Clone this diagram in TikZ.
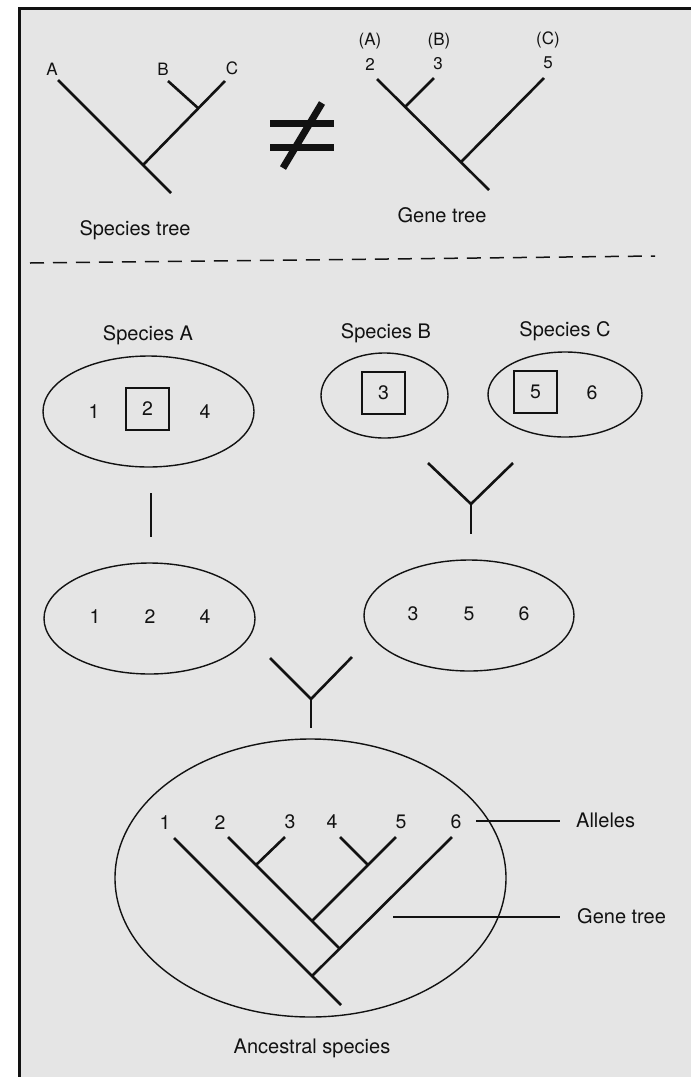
\documentclass[tikz,border=0pt]{standalone}
\usepackage{fontspec}
\setmainfont{TeX Gyre Heros}
\usetikzlibrary{shapes.geometric}
\definecolor{paper}{gray}{0.90}
\definecolor{ink}{gray}{0.07}

\begin{document}
\begin{tikzpicture}[x=1pt,y=-1pt,
  branch/.style={draw=ink,line width=2.6pt,line cap=butt},
  leader/.style={draw=ink,line width=1.6pt},
  lbl/.style={inner sep=0pt,text=ink,anchor=base,font=\fontsize{20}{23}\selectfont},
  tiplbl/.style={inner sep=0pt,text=ink,font=\fontsize{17}{20}\selectfont},
  num/.style={inner sep=0pt,text=ink,font=\fontsize{19.5}{22}\selectfont},
  bignum/.style={inner sep=0pt,text=ink,font=\fontsize{19.5}{22}\selectfont},
  pop/.style={ellipse,draw=ink,line width=1.4pt,inner sep=0pt},
  allele/.style={rectangle,draw=ink,line width=1.4pt,minimum width=43pt,
                 minimum height=42pt,inner sep=0pt,text=ink,font=\fontsize{19.5}{22}\selectfont},
]
\useasboundingbox (0,0) rectangle (691,1077);
\fill[white] (0,0) rectangle (691,1077);
\fill[paper] (19.5,8.5) rectangle (691,1077);
\draw[ink,line width=3pt] (19.5,1077) -- (19.5,8.5) -- (691,8.5);

% ---------- species tree ----------
\node[tiplbl] (lA) at (52,69) {A};
\node[tiplbl] (lB) at (163,69) {B};
\node[tiplbl] (lC) at (232,68) {C};
\coordinate (sA) at (58,80);
\coordinate (sRoot) at (171,193);
\coordinate (sJ) at (143,165);
\coordinate (sC) at (225,81);
\coordinate (sBC) at (198,108);
\coordinate (sB) at (168,81);
\draw[branch] (sA) -- (sRoot);
\draw[branch] (sJ) -- (sC);
\draw[branch] (sBC) -- (sB);
\node[lbl] (stree) at (135,235) {Species tree};

% ---------- not-equal sign ----------
\draw[ink,line width=7pt] (270,123) -- (334,123);
\draw[ink,line width=7pt] (270,147) -- (334,147);
\draw[ink,line width=7pt] (322,103) -- (283,168);

% ---------- gene tree ----------
\node[tiplbl,anchor=base] (gpA) at (370,45) {(A)};
\node[tiplbl,anchor=base] (gpB) at (439,45) {(B)};
\node[tiplbl,anchor=base] (gpC) at (548,44) {(C)};
\node[tiplbl] (gn2) at (370,64) {2};
\node[tiplbl] (gn3) at (438,64) {3};
\node[tiplbl] (gn5) at (548,63) {5};
\coordinate (gA) at (377,79);
\coordinate (gRoot) at (489,190);
\coordinate (gJ3) at (405,107);
\coordinate (g3) at (434,78);
\coordinate (gJ5) at (461,162);
\coordinate (g5) at (544,78);
\draw[branch] (gA) -- (gRoot);
\draw[branch] (gJ3) -- (g3);
\draw[branch] (gJ5) -- (g5);
\node[lbl] (gtree) at (442,222) {Gene tree};

% ---------- separator ----------
\coordinate (sepL) at (30,263);
\coordinate (sepR) at (655,256);
\draw[ink,line width=1.5pt,dash pattern=on 14pt off 9pt] (sepL) -- (sepR);

% ---------- present-day species ----------
\node[lbl] (spA) at (148,340) {Species A};
\node[lbl] (spB) at (386,338) {Species B};
\node[lbl] (spC) at (565,336) {Species C};

\node[pop,minimum width=211pt,minimum height=111pt] (popA) at (148.5,411.5) {};
\node[num] (a1) at (94,412) {1};
\node[allele] (a2) at (147.5,409) {2};
\node[num] (a4) at (205,412) {4};

\node[pop,minimum width=127pt,minimum height=85pt] (popB) at (384.5,395.5) {};
\node[allele] (b3) at (383.5,393) {3};

\node[pop,minimum width=154pt,minimum height=85pt] (popC) at (565,394.5) {};
\node[allele] (c5) at (535.5,392) {5};
\node[num] (c6) at (592,393) {6};

% lineage of A
\coordinate (vA1) at (151,493);
\coordinate (vA2) at (151,537);
\draw[branch] (vA1) -- (vA2);

% B and C merge
\coordinate (yBl) at (428,463);
\coordinate (yBr) at (513,463);
\coordinate (yBj) at (471,504);
\coordinate (yBb) at (471,534);
\draw[branch] (yBl) -- (yBj) -- (yBr);
\draw[branch] (yBj) -- (yBb);

% ---------- intermediate populations ----------
\node[pop,minimum width=211pt,minimum height=111pt] (popA2) at (149.5,618.5) {};
\node[num] (m1) at (95,617) {1};
\node[num] (m2) at (150,617) {2};
\node[num] (m4) at (205,617) {4};

\node[pop,minimum width=210pt,minimum height=111pt] (popBC) at (469,615.5) {};
\node[num] (m3) at (413,614) {3};
\node[num] (m5) at (469,614) {5};
\node[num] (m6) at (524,614) {6};

% final merge
\coordinate (yAl) at (270,658);
\coordinate (yAr) at (352,657);
\coordinate (yAj) at (311,699);
\coordinate (yAb) at (311,728);
\draw[branch] (yAl) -- (yAj) -- (yAr);
\draw[branch] (yAj) -- (yAb);

% ---------- ancestral species ----------
\node[pop,minimum width=391pt,minimum height=278pt] (anc) at (310.5,878) {};
\node[bignum] (n1) at (165,823) {1};
\node[bignum] (n2) at (220,823) {2};
\node[bignum] (n3) at (290,822) {3};
\node[bignum] (n4) at (332,822) {4};
\node[bignum] (n5) at (401,822) {5};
\node[bignum] (n6) at (456,822) {6};

\coordinate (t1) at (174,838);
\coordinate (tR) at (341,1005);
\coordinate (tJ0) at (312,976);
\coordinate (t6) at (452,837);
\coordinate (t2) at (228,837);
\coordinate (tJ1) at (340,949);
\coordinate (tJ3) at (256,865);
\coordinate (t3) at (285,837);
\coordinate (tJ45) at (312,921);
\coordinate (t5) at (396,837);
\coordinate (tJ4) at (368,865);
\coordinate (t4) at (340,837);
\draw[branch] (t1) -- (tR);
\draw[branch] (tJ0) -- (t6);
\draw[branch] (t2) -- (tJ1);
\draw[branch] (tJ3) -- (t3);
\draw[branch] (tJ45) -- (t5);
\draw[branch] (tJ4) -- (t4);

\node[lbl,anchor=base west] (alleles) at (576,827) {Alleles};
\node[lbl,anchor=base west] (gtree2) at (577,923) {Gene tree};
\coordinate (alA) at (476,821);
\coordinate (alB) at (560,821);
\coordinate (gtA) at (393,917);
\coordinate (gtB) at (560,917);
\draw[leader] (alA) -- (alB);
\draw[leader] (gtA) -- (gtB);

\node[lbl] (ancl) at (312,1053) {Ancestral species};
\end{tikzpicture}
\end{document}
